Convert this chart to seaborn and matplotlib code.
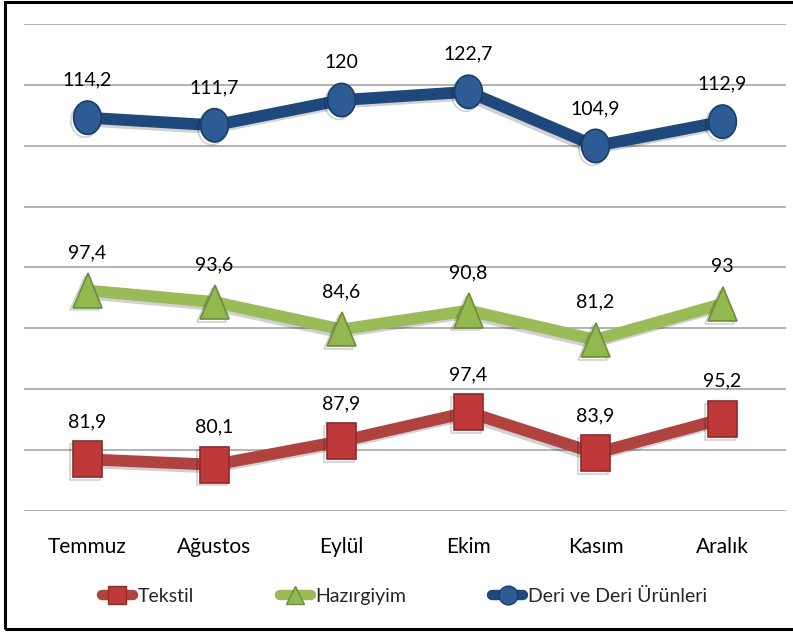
import matplotlib.pyplot as plt
import matplotlib.patheffects as pe
import numpy as np
import pandas as pd
import seaborn as sns
from matplotlib.lines import Line2D
from matplotlib.markers import MarkerStyle
from matplotlib.patches import Rectangle
from matplotlib.transforms import Affine2D

# veriler
aylar = ['Temmuz', 'Ağustos', 'Eylül', 'Ekim', 'Kasım', 'Aralık']
tekstil = [81.9, 80.1, 87.9, 97.4, 83.9, 95.2]
hazirgiyim = [97.4, 93.6, 84.6, 90.8, 81.2, 93.0]
deri = [114.2, 111.7, 120.0, 122.7, 104.9, 112.9]
seriler = ['Tekstil', 'Hazırgiyim', 'Deri ve Deri Ürünleri']

# orijinal grafikte seriler dikeyde kaydırılmış (gizli eksen)
kaydirma = {'Tekstil': 0, 'Hazırgiyim': 40, 'Deri ve Deri Ürünleri': 80}
cizgi_renk = {'Tekstil': '#B04340', 'Hazırgiyim': '#9BBB59', 'Deri ve Deri Ürünleri': '#1F497D'}
isaret_renk = {'Tekstil': '#C0393A', 'Hazırgiyim': '#92B850', 'Deri ve Deri Ürünleri': '#2D5B94'}
kenar_renk = {'Tekstil': '#8E2A28', 'Hazırgiyim': '#6E8C3A', 'Deri ve Deri Ürünleri': '#1A3D6B'}
isaret = {'Tekstil': 's', 'Hazırgiyim': '^', 'Deri ve Deri Ürünleri': 'o'}
isaret_boyut = {'Tekstil': 21.5, 'Hazırgiyim': 20.5, 'Deri ve Deri Ürünleri': 20}

rows = []
for seri, vals in zip(seriler, [tekstil, hazirgiyim, deri]):
    for ay, v in zip(aylar, vals):
        rows.append({'Ay': ay, 'Seri': seri, 'Deger': v, 'Konum': v + kaydirma[seri]})
df = pd.DataFrame(rows)

sns.set_theme(style='white')
plt.rcParams['font.family'] = ['Lato', 'DejaVu Sans']

fig = plt.figure(figsize=(7.93, 6.32), dpi=100)
ax = fig.add_axes([24 / 793, (632 - 510.7) / 632, 762 / 793, 486.7 / 632])

sns.lineplot(
    data=df, x='Ay', y='Konum', hue='Seri', hue_order=seriler, palette=cizgi_renk,
    style='Seri', style_order=seriler, markers=isaret, dashes=False,
    sort=False, legend=False, ax=ax, linewidth=8.5, zorder=3,
)

golge = [pe.SimpleLineShadow(offset=(-2, -2), alpha=0.18, shadow_color='black'), pe.Normal()]
for line, seri in zip(ax.get_lines(), seriler):
    line.set_marker(MarkerStyle(isaret[seri], transform=Affine2D().scale(1, 1.2)))
    line.set_markersize(isaret_boyut[seri])
    line.set_markerfacecolor(isaret_renk[seri])
    line.set_markeredgecolor(kenar_renk[seri])
    line.set_markeredgewidth(1.2)
    line.set_solid_joinstyle('round')
    line.set_path_effects(golge)

# veri etiketleri
for _, r in df.iterrows():
    etiket = f"{r['Deger']:g}".replace('.', ',')
    ax.annotate(etiket, (aylar.index(r['Ay']), r['Konum']), xytext=(0, 27),
                textcoords='offset points', ha='center', va='center', fontsize=14, color='black')

ax.set_xlim(-0.5, 5.5)
ax.set_ylim(65, 225)
ax.set_yticks(np.arange(65, 226, 20))
ax.yaxis.grid(True, color='#A6A6A6', linewidth=1.2)
ax.set_axisbelow(True)
ax.tick_params(axis='y', left=False, labelleft=False)
ax.tick_params(axis='x', length=0, pad=19, labelsize=15, labelcolor='black')
ax.set_xlabel('')
ax.set_ylabel('')
for s in ax.spines.values():
    s.set_visible(False)

# lejant
handles = [
    Line2D([], [], color=cizgi_renk[s], linewidth=7.5, marker=isaret[s], markersize=13.5,
           markerfacecolor=isaret_renk[s], markeredgecolor=kenar_renk[s], solid_capstyle='round')
    for s in seriler
]
fig.legend(handles, seriler, loc='center', bbox_to_anchor=(0.51, 1 - 596 / 632), ncol=3,
           frameon=False, fontsize=14, handlelength=1.6, handletextpad=0.25, columnspacing=4.4)

# çerçeve
fig.patches.append(Rectangle((5 / 793, 3 / 632), 1.2, 1 - 5 / 632, transform=fig.transFigure,
                             fill=False, edgecolor='black', linewidth=2.2, zorder=10))

plt.savefig('out.png', dpi=100)
